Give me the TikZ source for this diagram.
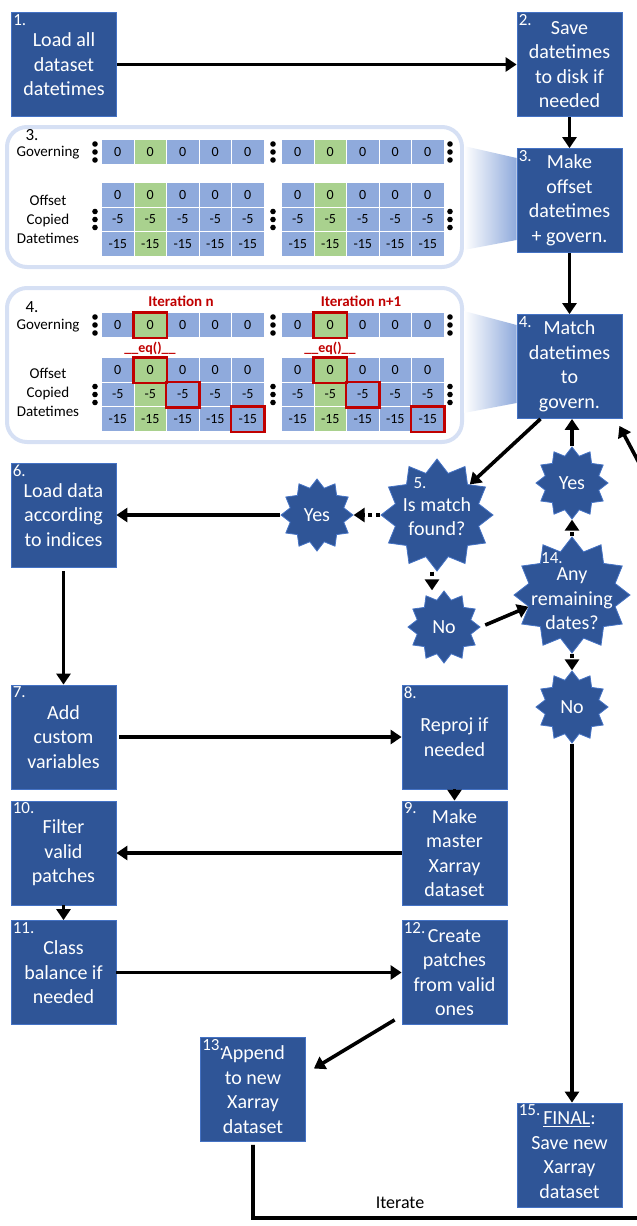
\documentclass[tikz,border=0pt]{standalone}
\usepackage{fontspec}
\setmainfont{Carlito}
\usetikzlibrary{shapes.geometric, arrows.meta}

\definecolor{boxblue}{HTML}{2F5597}
\definecolor{boxline}{HTML}{4472C4}
\definecolor{cellblue}{HTML}{8FAADC}
\definecolor{cellgreen}{HTML}{A9D18E}
\definecolor{panelline}{HTML}{D6E0F4}
\definecolor{hitred}{HTML}{C00000}

\newcommand{\stepfont}{\fontsize{20}{24.5}\selectfont}
\newcommand{\dotcol}[2]{\foreach \dy in {-8,0,8} {\fill (#1,#2+\dy) circle (2.8pt);}}
\newcommand{\cellrow}[4]{% name, left x, centre y, value
  \foreach \c/\col in {1/cellblue,2/cellgreen,3/cellblue,4/cellblue,5/cellblue}
    {\node[cell, fill=\col] (#1-\c) at (#2+\c*32.5-16.25, #3) {#4};}
}

\tikzset{
  stepbox/.style={draw=boxline, line width=0.8pt, fill=boxblue, text=white, minimum width=105pt, minimum height=104pt, inner sep=0pt, align=center, font=\stepfont},
  numlab/.style={anchor=north west, text=white, font=\fontsize{17}{17}\selectfont, inner sep=2pt},
  numsm/.style={text=white, font=\fontsize{17}{17}\selectfont, inner sep=0pt},
  seal/.style={star, star points=12, star point ratio=1.3, draw=boxline, line width=0.8pt, fill=boxblue, inner sep=0pt, minimum size=#1},
  startext/.style={text=white, font=\stepfont, align=center, inner sep=0pt},
  cell/.style={draw=white, line width=1pt, minimum width=32.5pt, minimum height=24.5pt, inner sep=0pt, font=\fontsize{14}{14}\selectfont},
  ptext/.style={font=\fontsize{15}{19}\selectfont, align=center, inner sep=0pt},
  itlab/.style={text=hitred, font=\bfseries\fontsize{15}{15}\selectfont, inner sep=0pt},
  panel/.style={draw=panelline, line width=4pt, rounded corners=20pt},
  hit/.style={draw=hitred, line width=2.5pt},
  arr/.style={line width=3.6pt, -{Triangle[length=11pt,width=14pt]}},
  dotarr/.style={arr, dash pattern=on 4pt off 4pt},
}

\begin{document}
\begin{tikzpicture}[x=1pt, y=-1pt]
\useasboundingbox (0,0) rectangle (637,1226);
\clip (0,0) rectangle (637,1226);

% steps
\node[stepbox, label={[numlab]north west:1.}] (b1) at (64,64.5) {Load all\\dataset\\datetimes};
\node[stepbox, label={[numlab]north west:2.}] (b2) at (569.5,64.5) {Save\\datetimes\\to disk if\\needed};
\node[stepbox, label={[numlab]north west:3.}] (b3) at (569.5,200.5) {Make\\offset\\datetimes\\+ govern.};
\node[stepbox, label={[numlab]north west:4.}] (b4) at (569.5,366.5) {Match\\datetimes\\to\\govern.};
\node[stepbox, label={[numlab]north west:6.}] (b6) at (63.5,515) {Load data\\according\\to indices};
\node[stepbox, label={[numlab]north west:7.}] (b7) at (63.5,737) {Add\\custom\\variables};
\node[stepbox, label={[numlab]north west:8.}] (b8) at (454.5,737) {Reproj if\\needed};
\node[stepbox, label={[numlab]north west:9.}] (b9) at (454.5,853) {Make\\master\\Xarray\\dataset};
\node[stepbox, label={[numlab]north west:10.}] (b10) at (63.5,853) {Filter\\valid\\patches};
\node[stepbox, label={[numlab]north west:11.}] (b11) at (63.5,972.5) {Class\\balance if\\needed};
\node[stepbox, label={[numlab]north west:12.}] (b12) at (454.5,972.5) {Create\\patches\\from valid\\ones};
\node[stepbox, label={[numlab]north west:13.}] (b13) at (253,1089.5) {Append\\to new\\Xarray\\dataset};
\node[stepbox, label={[numlab]north west:15.}] (b15) at (569.5,1155) {\underline{FINAL}:\\Save new\\Xarray\\dataset};

% decisions
\node[seal=112pt, label={[startext, yshift=-1.5pt]center:{Is match\\found?}}, label={[numsm, xshift=-17pt, yshift=32pt]center:5.}] (s5) at (437,515) {};
\node[seal=72pt, label={[startext]center:Yes}] (yes5) at (317,515) {};
\node[seal=72pt, label={[startext]center:No}] (no5) at (444,627) {};
\node[seal=116pt, label={[startext, yshift=-4pt]center:{Any\\remaining\\dates?}}, label={[numsm, xshift=-20pt, yshift=37pt]center:14.}] (s14) at (572,595) {};
\node[seal=72pt, label={[startext]center:Yes}] (yes14) at (572,483) {};
\node[seal=72pt, label={[startext]center:No}] (no14) at (572,707) {};

% panels
\draw[panel] (7,127) rectangle (462,267);
\draw[panel] (7,288) rectangle (462,442);
\shade[left color=white, right color=cellblue] (464,146) -- ([yshift=42.5pt]b3.west) -- ([yshift=-39.5pt]b3.west) -- (464,250) -- cycle;
\shade[left color=white, right color=cellblue] (464,311) -- ([yshift=41.5pt]b4.west) -- ([yshift=-36.5pt]b4.west) -- (464,413) -- cycle;

\node[ptext, font=\fontsize{17}{17}\selectfont] (n3) at (32,135) {3.};
\node[ptext] (gov3) at (48,153) {Governing};
\node[ptext] (off3) at (48,219.5) {Offset\\Copied\\Datetimes};
\node[ptext, font=\fontsize{17}{17}\selectfont] (n4) at (32,307) {4.};
\node[ptext] (gov4) at (48,326) {Governing};
\node[ptext] (off4) at (48,392) {Offset\\Copied\\Datetimes};

\cellrow{g3L}{101.5}{152}{0}
\cellrow{g3R}{281.5}{152}{0}
\cellrow{o3La}{101.5}{195}{0}
\cellrow{o3Lb}{101.5}{219.5}{-5}
\cellrow{o3Lc}{101.5}{244}{-15}
\cellrow{o3Ra}{281.5}{195}{0}
\cellrow{o3Rb}{281.5}{219.5}{-5}
\cellrow{o3Rc}{281.5}{244}{-15}

\cellrow{g4L}{101.5}{325}{0}
\cellrow{g4R}{281.5}{325}{0}
\cellrow{o4La}{101.5}{370}{0}
\cellrow{o4Lb}{101.5}{394.5}{-5}
\cellrow{o4Lc}{101.5}{419}{-15}
\cellrow{o4Ra}{281.5}{370}{0}
\cellrow{o4Rb}{281.5}{394.5}{-5}
\cellrow{o4Rc}{281.5}{419}{-15}

\foreach \y in {152,219.5,325,394.5} {\dotcol{95}{\y} \dotcol{273}{\y} \dotcol{450}{\y}}

\foreach \n in {g4L-2,o4La-2,o4Lb-3,o4Lc-5,g4R-2,o4Ra-2,o4Rb-3,o4Rc-5}
  \draw[hit] (\n.south west) rectangle (\n.north east);

\node[itlab] (itn) at (181,301) {Iteration n};
\node[itlab] (itn1) at (361,301) {Iteration n+1};
\node[itlab, font=\bfseries\fontsize{14}{14}\selectfont] (eqL) at (150,348) {\_\_eq()\_\_};
\node[itlab, font=\bfseries\fontsize{14}{14}\selectfont] (eqR) at (330,348) {\_\_eq()\_\_};

% connectors
\path[arr] (b1) edge (b2);
\path[arr] (b2) edge (b3);
\path[arr] (b3) edge (b4);
\draw[arr] ([xshift=-29pt]b4.south) -- (s5.43);
\draw[dotarr] (s5.west) -- (yes5.east);
\path[arr] (yes5) edge (b6);
\draw[dotarr] ([xshift=-5pt]s5.south) -- ([xshift=-5pt]s5.south |- no5.north);
\draw[arr, shorten <=5pt] (no5.east) -- (s14.195);
\draw[dotarr] (s14.north) -- (yes14.south);
\draw[arr] (yes14.north) -- (yes14.north |- b4.south);
\draw[dotarr] (s14.south) -- (no14.north);
\draw[arr] (no14.south) -- (no14.south |- b15.north);
\draw[arr, shorten <=4pt] (b6.south) -- (b7.north);
\draw[arr, shorten <=3pt] (b7.east) -- (b8.west);
\path[arr] (b8) edge (b9);
\draw[arr] (b9.west) -- (b10.east);
\path[arr] (b10) edge (b11);
\path[arr] (b11) edge (b12);
\draw[arr] ([xshift=-7pt,yshift=5pt]b12.south west) -- ([xshift=8pt,yshift=21pt]b13.east);

\coordinate (loopcorner) at (680,1218);
\coordinate (loopturn) at (680,540);
\draw[arr] ([yshift=-3pt]b13.south) |- (loopcorner) -- (loopturn) -- ([xshift=-3pt,yshift=-7pt]b4.south east);
\node[font=\fontsize{18}{18}\selectfont, inner sep=0pt] (iter) at (400,1203) {Iterate};

\end{tikzpicture}
\end{document}
